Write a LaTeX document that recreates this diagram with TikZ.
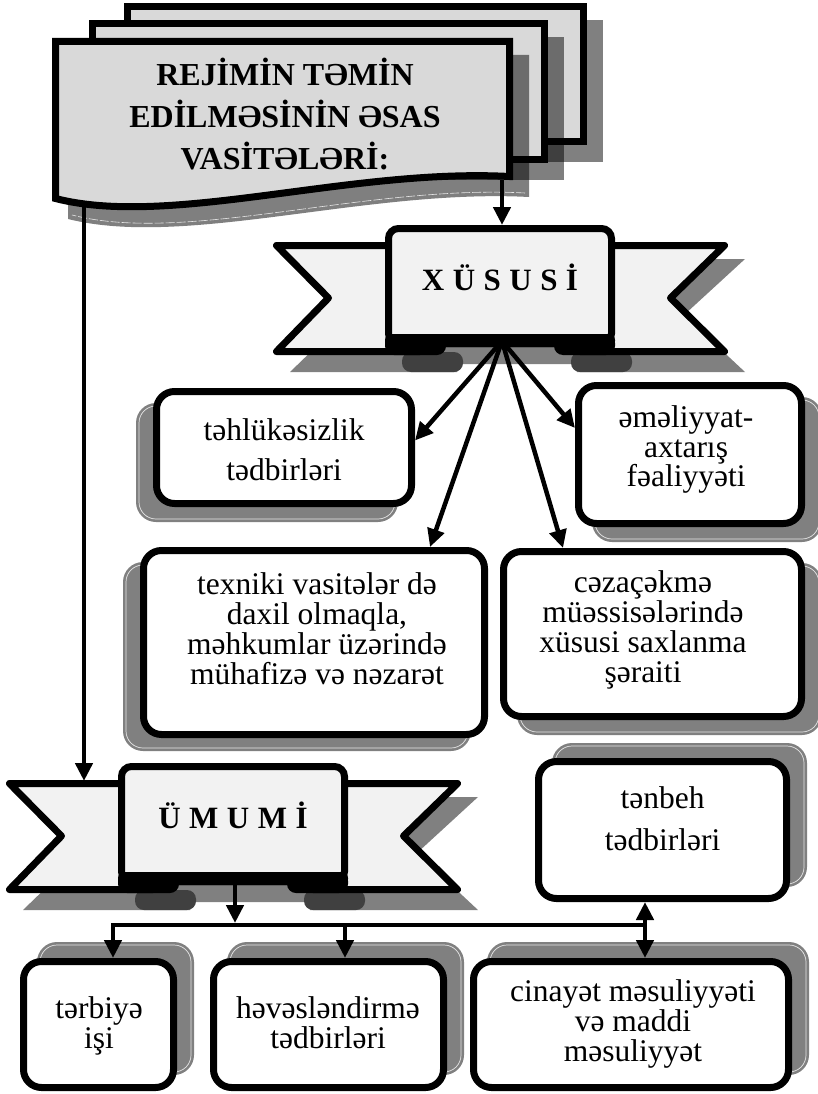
\documentclass[tikz,border=0pt]{standalone}
\usepackage{fontspec}
\setmainfont{Liberation Serif}
\usetikzlibrary{arrows.meta}
\definecolor{sheetfill}{HTML}{D9D9D9}
\definecolor{ribfill}{HTML}{F2F2F2}
\definecolor{shgray}{HTML}{808080}
\definecolor{shdark}{HTML}{404040}
\definecolor{shline}{HTML}{E6E6E6}

\newcommand\myshadow[4]{%
  \fill[shgray, rounded corners=20pt] (#1,#2) rectangle (#3,#4);
  \draw[shline, line width=0.7pt, rounded corners=17pt] ({#1+3},{#2+3}) rectangle ({#3-3},{#4-3});}

\newcommand\myribbon[4]{%
\begin{scope}[shift={(#2,#3)}]
  \begin{scope}[shift={(17,17)}]
    \fill[shgray] (-227,17) -- (-60,17) -- (-60,130) -- (-227,130) -- (-168,73) -- cycle;
    \fill[shgray] (228,17) -- (60,17) -- (60,130) -- (228,130) -- (167,73) -- cycle;
    \fill[shgray, rounded corners=10pt] (-115,0) rectangle (115,122);
    \fill[shdark, rounded corners=9pt] (-115,110) rectangle (-54,130);
    \fill[shdark, rounded corners=9pt] (54,110) rectangle (115,130);
  \end{scope}
  \draw[ribline] (-80,20.5) -- (-223.5,20.5) -- (-171.5,73) -- (-223.5,126.5) -- (-80,126.5) -- cycle;
  \draw[ribline] (80,20.5) -- (224.5,20.5) -- (170.5,73) -- (224.5,126.5) -- (80,126.5) -- cycle;
  \node[ribbox] (#1) at (0,61) {};
  \fill[black, rounded corners=6pt] (-115,109) rectangle (115,122);
  \fill[black, rounded corners=9pt] (-115,109) rectangle (-54,130);
  \fill[black, rounded corners=9pt] (54,109) rectangle (115,130);
  \node[ribtext] (#1t) at (0,65) {#4};
\end{scope}}

\tikzset{
  sheet/.style={draw, line width=7pt, fill=sheetfill, line join=miter},
  ribline/.style={draw, line width=7pt, fill=ribfill, line join=round},
  ribbox/.style={draw, line width=7pt, fill=ribfill, rounded corners=10pt, rectangle,
     minimum width=223pt, minimum height=115pt, inner sep=0pt},
  ribtext/.style={anchor=base, inner sep=0pt, font={\fontsize{31}{31}\selectfont\bfseries\spaceskip=8.5pt}},
  titletxt/.style={align=center, inner sep=0pt, font={\fontsize{32}{42}\selectfont\bfseries\lineskiplimit=-100pt}},
  tbox/.style={draw, line width=7pt, rounded corners=18pt, fill=white, inner sep=0pt, rectangle},
  btxt/.style={align=center, inner sep=0pt, font={\fontsize{31.5}{#1}\selectfont\lineskiplimit=-100pt}},
  btxt/.default=29,
  arr/.style={line width=4.5pt, -{Triangle[length=18pt,width=17pt]}},
  darr/.style={line width=4.5pt, {Triangle[length=18pt,width=17pt]}-{Triangle[length=18pt,width=17pt]}},
  hline/.style={line width=4.5pt, line cap=rect}
}

\begin{document}
\begin{tikzpicture}[x=1pt,y=-1pt]
\useasboundingbox (0,0) rectangle (818,1094);

% ---- box shadows ----
\myshadow{136}{403}{398}{522}
\myshadow{592}{397}{822}{542}
\myshadow{123}{562}{471}{751}
\myshadow{517}{563}{822}{735}
\myshadow{552}{743}{807}{887}
\myshadow{37}{942}{194}{1075}
\myshadow{227}{942}{464}{1075}
\myshadow{487}{942}{809}{1075}

% ---- boxes ----
\node[tbox, minimum width=255pt, minimum height=112pt] (b1) at (284,447.5) {};
\node[tbox, minimum width=223pt, minimum height=138pt] (b2) at (690,454.5) {};
\node[tbox, minimum width=341pt, minimum height=184pt] (b3) at (314,642.5) {};
\node[tbox, minimum width=298pt, minimum height=165pt] (b4) at (652.5,634) {};
\node[tbox, minimum width=248pt, minimum height=137pt] (b5) at (662.5,830) {};
\node[tbox, minimum width=150pt, minimum height=126pt] (b6) at (98.5,1024.5) {};
\node[tbox, minimum width=230pt, minimum height=126pt] (b7) at (328.5,1024.5) {};
\node[tbox, minimum width=315pt, minimum height=126pt] (b8) at (631,1024.5) {};

% ---- ribbons ----
\myribbon{xususi}{500}{225}{X Ü S U S İ}
\myribbon{umumi}{233}{763}{Ü M U M İ}

% ---- stacked sheets ----
\fill[shgray] (140,20) rectangle (603,162);
\draw[sheet] (127.5,6.5) rectangle (583.5,141.5);
\fill[black, fill opacity=0.5] (105,37) rectangle (564,180);
\draw[sheet] (92.5,23.5) rectangle (544.5,159.5);
\fill[black, fill opacity=0.5] (68,55) -- (529,55) -- (529,197) .. controls (366,188.5) and (186,248.5) .. (68,219) -- cycle;
\draw[shline, line width=0.6pt, dash pattern=on 9pt off 2pt] (525,193) .. controls (366,184.5) and (186,244.5) .. (72,215);
\draw[sheet] (55.5,41.5) -- (509.5,41.5) -- (509.5,176.5) .. controls (350,168) and (170,228) .. (55.5,198.5) -- cycle;
\node[titletxt] (title) at (285,114) {REJİMİN TƏMİN\\EDİLMƏSİNİN ƏSAS\\VASİTƏLƏRİ:};

% ---- coordinates ----
\coordinate (docL) at (84,203);
\coordinate (docR) at (502,180);
\coordinate (umTop) at (84,781);
\coordinate (xusBot) at ([xshift=2pt,yshift=6pt]xususi.south);
\coordinate (jC) at (235,923);
\coordinate (jL) at (113,925);
\coordinate (jM) at (345,925);
\coordinate (jR) at (645,925);

% ---- connectors ----
\draw[arr] (docL) -- (umTop);
\draw[arr] (docR) -- ([xshift=2pt]xususi.north);
\draw[arr] (xusBot) -- ([yshift=7pt]b1.east);
\draw[arr] (xusBot) -- ([xshift=116pt]b3.north);
\draw[arr] (xusBot) -- ([xshift=-89.5pt]b4.north);
\draw[arr] (xusBot) -- ([yshift=26.5pt]b2.west);
\draw[arr] ([xshift=2pt]umumi.south) -- (jC);
\draw[hline] (jL) -- (jR);
\draw[arr] (jL) -- (jL |- b6.north);
\draw[arr] (jM) -- (jM |- b7.north);
\draw[darr] (jR |- b5.south) -- (jR |- b8.north);

% ---- texts ----
\node[btxt=40] (t1) at (284,449.75) {təhlükəsizlik\\tədbirləri};
\node[btxt=29.5] (t2) at (686,449.5) {əməliyyat-\\axtarış\\fəaliyyəti};
\node[btxt=30] (t3) at (317,629) {texniki vasitələr də\\daxil olmaqla,\\məhkumlar üzərində\\mühafizə və nəzarət};
\node[btxt=30] (t4) at (643,630) {cəzaçəkmə\\müəssisələrində\\xüsusi saxlanma\\şəraiti};
\node[btxt=42] (t5) at (662.5,818.75) {tənbeh\\tədbirləri};
\node[btxt=30] (t6) at (633,1024) {cinayət məsuliyyəti\\və maddi\\məsuliyyət};
\node[btxt=30] (t7) at (99,1025.5) {tərbiyə\\işi};
\node[btxt=30] (t8) at (328,1022.25) {həvəsləndirmə\\tədbirləri};
\end{tikzpicture}
\end{document}
